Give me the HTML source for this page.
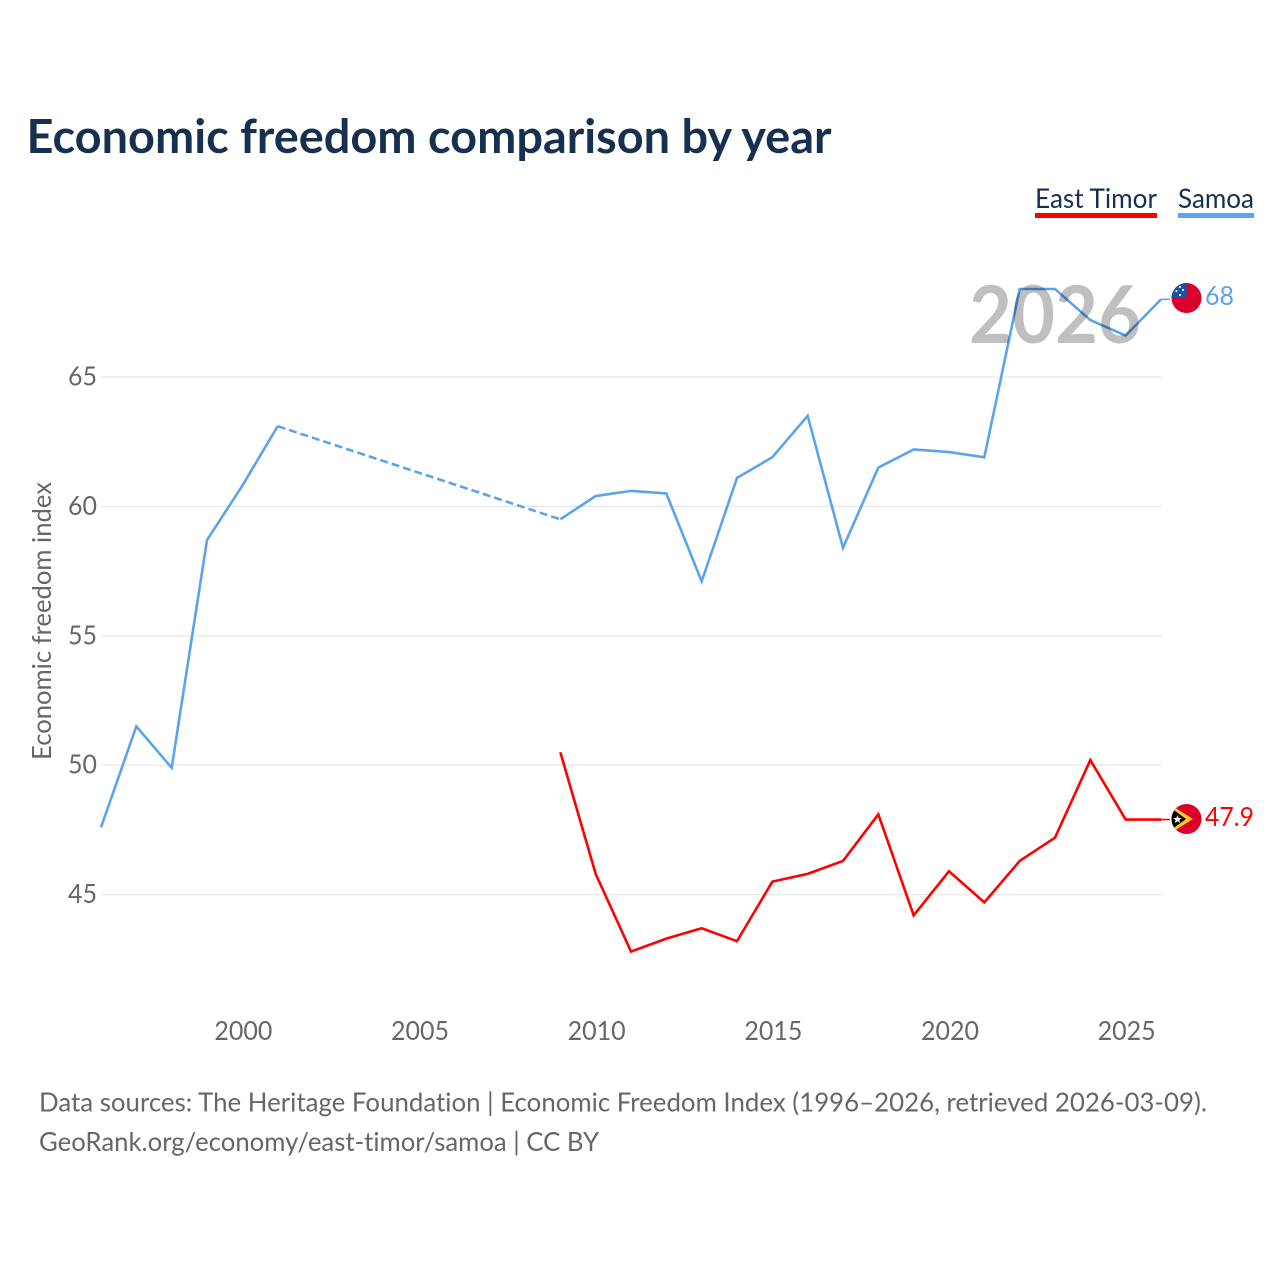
<!DOCTYPE html>
<html lang="en">
<head>
<meta charset="utf-8">
<title>Economic freedom comparison by year</title>
<style>
html,body{margin:0;padding:0;background:#fff;width:1280px;height:1280px;overflow:hidden}
svg{display:block;font-family:"Lato","Carlito","Liberation Sans",sans-serif;font-variant-ligatures:none}
</style>
</head>
<body>
<svg id="chart" xmlns="http://www.w3.org/2000/svg" width="1280" height="1280" viewBox="0 0 1280 1280">
  <defs>
    <clipPath id="flag-clip-ws"><circle cx="1186.5" cy="298" r="15"/></clipPath>
    <clipPath id="flag-clip-tl"><circle cx="1186.5" cy="819" r="15"/></clipPath>
  </defs>
  <text x="26.5" y="153" font-size="47" font-weight="700" fill="#17304f" textLength="805" lengthAdjust="spacingAndGlyphs">Economic freedom comparison by year</text>

  <g>
    <g>
      <text x="1035" y="208" font-size="27" fill="#17304f" textLength="122" lengthAdjust="spacingAndGlyphs">East Timor</text>
      <rect x="1035" y="213" width="122" height="5" fill="#ff0000"/>
    </g>
    <g>
      <text x="1178" y="208" font-size="27" fill="#17304f" textLength="76" lengthAdjust="spacingAndGlyphs">Samoa</text>
      <rect x="1178" y="213" width="76" height="5" fill="#5ba3ec"/>
    </g>
  </g>

  <g id="grid"></g>
  <g id="y-ticks"></g>
  <g id="x-ticks"></g>
  <text transform="translate(51,621) rotate(-90)" text-anchor="middle" font-size="26" fill="#666666" textLength="278" lengthAdjust="spacingAndGlyphs">Economic freedom index</text>

  <g id="series"></g>

  <text x="969" y="343" font-size="80" font-weight="700" fill="#000000" fill-opacity="0.25" textLength="172" lengthAdjust="spacingAndGlyphs">2026</text>

  <g clip-path="url(#flag-clip-ws)">
    <rect x="1171" y="283" width="31" height="30" fill="#d9002b"/>
    <rect x="1171" y="283" width="15.5" height="15" fill="#0f55a8"/>
    <circle cx="1180" cy="287" r="1.1" fill="#e8eef8"/>
    <circle cx="1176.5" cy="291" r="1.1" fill="#e8eef8"/>
    <circle cx="1183" cy="290" r="1.1" fill="#e8eef8"/>
    <circle cx="1180" cy="295" r="1.1" fill="#e8eef8"/>
  </g>
  <g clip-path="url(#flag-clip-tl)">
    <rect x="1171" y="804" width="31" height="30" fill="#d9002b"/>
    <polygon points="1171,805 1193,819 1171,833" fill="#ffc726"/>
    <polygon points="1171,808 1186,819 1171,830" fill="#000000"/>
    <polygon points="1177.5,815 1178.6,818 1182,818 1179.3,820 1180.3,823 1177.5,821.2 1174.7,823 1175.7,820 1173,818 1176.4,818" fill="#ffffff"/>
  </g>

  <text id="label-ws" x="1205" y="305" font-size="26" fill="#5ba3ec" textLength="29" lengthAdjust="spacingAndGlyphs"></text>
  <text id="label-tl" x="1205" y="826" font-size="26" fill="#ff0000" textLength="49" lengthAdjust="spacingAndGlyphs"></text>

  <g>
    <text x="39" y="1111.7" font-size="26" fill="#666666" textLength="1168" lengthAdjust="spacingAndGlyphs">Data sources: The Heritage Foundation | Economic Freedom Index (1996–2026, retrieved 2026-03-09).</text>
    <text x="39" y="1151" font-size="26" fill="#666666" textLength="560" lengthAdjust="spacingAndGlyphs">GeoRank.org/economy/east-timor/samoa | CC BY</text>
  </g>
</svg>
<script>
const samoaYears = [1996,1997,1998,1999,2000,2001,2009,2010,2011,2012,2013,2014,2015,2016,2017,2018,2019,2020,2021,2022,2023,2024,2025,2026];
const samoaValues = [47.6,51.5,49.9,58.7,60.8,63.1,59.5,60.4,60.6,60.5,57.1,61.1,61.9,63.5,58.4,61.5,62.2,62.1,61.9,68.4,68.4,67.2,66.6,68];
const eastTimorYears = [2009,2010,2011,2012,2013,2014,2015,2016,2017,2018,2019,2020,2021,2022,2023,2024,2025,2026];
const eastTimorValues = [50.5,45.8,42.8,43.3,43.7,43.2,45.5,45.8,46.3,48.1,44.2,45.9,44.7,46.3,47.2,50.2,47.9,47.9];
const yTickValues = [45,50,55,60,65];
const xTickValues = [2000,2005,2010,2015,2020,2025];

const NS = 'http://www.w3.org/2000/svg';
function xScale(year){ return 101 + (year - 1996) * (1161 - 101) / 30; }
function yScale(v){ return 765.2 - (v - 50) * 25.88; }

const gridG = document.getElementById('grid');
const yG = document.getElementById('y-ticks');
const xG = document.getElementById('x-ticks');
const seriesG = document.getElementById('series');

yTickValues.forEach(function(v){
  const line = document.createElementNS(NS,'line');
  
  
  line.setAttribute('x1', 101);
  line.setAttribute('x2', 1162);
  line.setAttribute('y1', yScale(v));
  line.setAttribute('y2', yScale(v));
  line.setAttribute('stroke', '#e8e8e8');
  line.setAttribute('stroke-width', '1.3');
  gridG.appendChild(line);
  const t = document.createElementNS(NS,'text');
  
  
  t.setAttribute('x', 97);
  t.setAttribute('y', yScale(v) + 8.5);
  t.setAttribute('text-anchor', 'end');
  t.setAttribute('font-size', '26');
  t.setAttribute('fill', '#666666');
  t.setAttribute('textLength', '29');
  t.setAttribute('lengthAdjust', 'spacingAndGlyphs');
  t.textContent = v;
  yG.appendChild(t);
});

xTickValues.forEach(function(y){
  const t = document.createElementNS(NS,'text');
  
  
  t.setAttribute('x', xScale(y) + 1);
  t.setAttribute('y', 1040);
  t.setAttribute('text-anchor', 'middle');
  t.setAttribute('font-size', '26');
  t.setAttribute('fill', '#666666');
  t.setAttribute('textLength', '58');
  t.setAttribute('lengthAdjust', 'spacingAndGlyphs');
  t.textContent = y;
  xG.appendChild(t);
});

function pathOf(years, values){
  return years.map(function(y,i){
    return (i ? 'L' : 'M') + xScale(y).toFixed(2) + ' ' + yScale(values[i]).toFixed(2);
  }).join(' ');
}

function addSegment(name, years, values, color, dashed){
  const p = document.createElementNS(NS,'path');
  
  
  p.setAttribute('d', pathOf(years, values));
  p.setAttribute('fill', 'none');
  p.setAttribute('stroke', color);
  p.setAttribute('stroke-width', '2.6');
  p.setAttribute('stroke-linejoin', 'miter');
  if (dashed) p.setAttribute('stroke-dasharray', '8 4');
  seriesG.appendChild(p);
}

function addSeries(prefix, years, values, color){
  let start = 0;
  for (let i = 1; i <= years.length; i++) {
    if (i === years.length || years[i] - years[i-1] > 1) {
      addSegment(prefix + '-line', years.slice(start, i), values.slice(start, i), color, false);
      if (i < years.length) {
        addSegment(prefix + '-gap-line', years.slice(i-1, i+1), values.slice(i-1, i+1), color, true);
      }
      start = i;
    }
  }
  const last = values[values.length - 1];
  const lead = document.createElementNS(NS,'line');
  
  
  lead.setAttribute('x1', xScale(years[years.length - 1]));
  lead.setAttribute('x2', 1170);
  lead.setAttribute('y1', yScale(last));
  lead.setAttribute('y2', yScale(last));
  lead.setAttribute('stroke', color);
  lead.setAttribute('stroke-width', '1.6');
  seriesG.appendChild(lead);
}

addSeries('samoa', samoaYears, samoaValues, '#5ba3ec');
addSeries('east-timor', eastTimorYears, eastTimorValues, '#ff0000');

document.getElementById('label-ws').textContent = samoaValues[samoaValues.length - 1];
document.getElementById('label-tl').textContent = eastTimorValues[eastTimorValues.length - 1];
</script>
</body>
</html>
